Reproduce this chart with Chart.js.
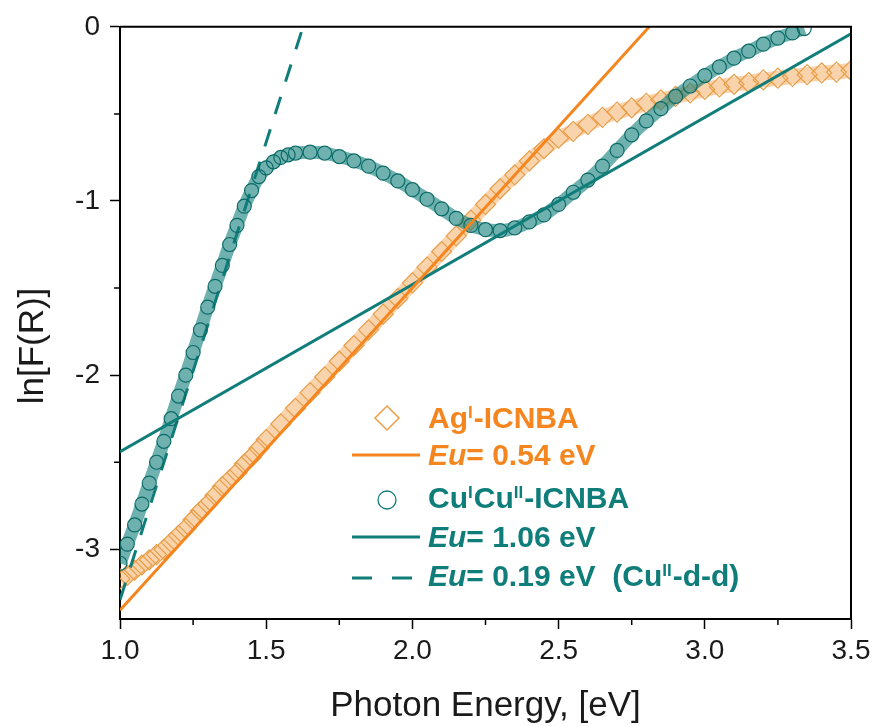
<!DOCTYPE html>
<html lang="en">
<head>
<meta charset="UTF-8">
<title>ln[F(R)] vs Photon Energy</title>
<script src="https://cdn.jsdelivr.net/npm/chart.js"></script>
<style>
    body { margin: 0; background: #fff; }
    #wrap { width: 877px; height: 727px; }
</style>
</head>
<body>
<div id="wrap"><canvas id="urbach" width="877" height="727"></canvas></div>
<script>
// Cu(I)Cu(II)-ICNBA
const cuX = [1.00, 1.025, 1.05, 1.075, 1.10, 1.125, 1.15, 1.175, 1.20, 1.225, 1.25, 1.275, 1.30, 1.325, 1.35, 1.375, 1.40, 1.425, 1.45, 1.475, 1.50, 1.525, 1.55, 1.575, 1.60,
             1.65, 1.70, 1.75, 1.80, 1.85, 1.90, 1.95, 2.00, 2.05, 2.10, 2.15, 2.20, 2.25, 2.30, 2.35, 2.40, 2.45, 2.50, 2.55, 2.60, 2.65, 2.70, 2.75, 2.80, 2.85, 2.90, 2.95, 3.00, 3.05, 3.10, 3.15, 3.20, 3.25, 3.30, 3.34];
const cuY = [-3.08, -2.97, -2.86, -2.74, -2.62, -2.50, -2.38, -2.25, -2.12, -2.00, -1.87, -1.74, -1.61, -1.49, -1.37, -1.25, -1.14, -1.03, -0.94, -0.86, -0.81, -0.775, -0.75, -0.735, -0.725,
             -0.72, -0.725, -0.745, -0.77, -0.80, -0.84, -0.885, -0.935, -0.99, -1.045, -1.10, -1.14, -1.165, -1.17, -1.155, -1.12, -1.08, -1.02, -0.95, -0.88, -0.80, -0.71, -0.62, -0.54, -0.47, -0.40, -0.34, -0.28, -0.23, -0.18, -0.14, -0.10, -0.065, -0.035, -0.01];

// Ag(I)-ICNBA
const agX = [1.00, 1.025, 1.05, 1.075, 1.10, 1.125, 1.15, 1.175, 1.20, 1.225, 1.25, 1.275, 1.30, 1.325, 1.35, 1.375, 1.40, 1.425, 1.45, 1.475, 1.50,
             1.55, 1.60, 1.65, 1.70, 1.75, 1.80, 1.85, 1.90, 1.95, 2.00, 2.05, 2.10, 2.15, 2.20, 2.25, 2.30, 2.35, 2.40, 2.45, 2.50, 2.55, 2.60, 2.65, 2.70, 2.75, 2.80, 2.85, 2.90, 2.95, 3.00, 3.05, 3.10, 3.15, 3.20, 3.25, 3.30, 3.35, 3.40, 3.45, 3.50];
const agY = [-3.17, -3.15, -3.12, -3.09, -3.06, -3.03, -3.00, -2.96, -2.92, -2.88, -2.83, -2.78, -2.74, -2.69, -2.64, -2.60, -2.56, -2.51, -2.47, -2.42, -2.37,
             -2.28, -2.19, -2.10, -2.01, -1.92, -1.83, -1.74, -1.65, -1.56, -1.47, -1.38, -1.29, -1.20, -1.11, -1.02, -0.93, -0.85, -0.77, -0.70, -0.64, -0.60, -0.56, -0.52, -0.49, -0.465, -0.44, -0.42, -0.40, -0.38, -0.36, -0.345, -0.33, -0.32, -0.305, -0.295, -0.285, -0.275, -0.265, -0.26, -0.25];

// Urbach fits (end points)
const fitAgX = [1.0, 2.81];
const fitAgY = [-3.35, 0];
const fitCuX = [1.0, 3.5];
const fitCuY = [-2.44, -0.04];
const fitDdX = [1.0, 1.626];
const fitDdY = [-3.29, 0];

const xTickValues = [1.0, 1.5, 2.0, 2.5, 3.0, 3.5];
const xMinorTicks = [1.25, 1.75, 2.25, 2.75, 3.25];
const yTickValues = [0, -1, -2, -3];
const yMinorTicks = [-0.5, -1.5, -2.5];

const ORANGE = '#F5861F';
const ORANGE_MARK = '#E99E48';
const TEAL = '#0F7D79';
const FONT = '"Liberation Sans", Arial, sans-serif';

function pts(xs, ys) {
    return xs.map((x, i) => ({ x: x, y: ys[i] }));
}

// frame on top/right + short minor ticks
const framePlugin = {
    id: 'framePlugin',
    afterDatasetsDraw(chart) {
        const { ctx, chartArea: a, scales } = chart;
        ctx.save();
        ctx.strokeStyle = '#000';
        ctx.lineWidth = 2;
        ctx.beginPath();
        ctx.moveTo(a.left, a.top);
        ctx.lineTo(a.right, a.top);
        ctx.lineTo(a.right, a.bottom);
        ctx.stroke();
        ctx.lineWidth = 1.5;
        ctx.beginPath();
        xMinorTicks.forEach(v => {
            const px = scales.x.getPixelForValue(v);
            ctx.moveTo(px, a.bottom);
            ctx.lineTo(px, a.bottom + 6);
        });
        yMinorTicks.forEach(v => {
            const py = scales.y.getPixelForValue(v);
            ctx.moveTo(a.left, py);
            ctx.lineTo(a.left - 6, py);
        });
        ctx.stroke();
        ctx.restore();
    }
};

function drawParts(ctx, parts, x, y, color) {
    ctx.fillStyle = color;
    ctx.textAlign = 'left';
    ctx.textBaseline = 'alphabetic';
    parts.forEach(p => {
        const size = p.sup ? 17 : 30;
        ctx.font = (p.it ? 'italic ' : '') + 'bold ' + size + 'px ' + FONT;
        ctx.fillText(p.t, x, p.sup ? y - 10 : y);
        x += ctx.measureText(p.t).width + (p.sup ? 1 : 0);
    });
}

const legendPlugin = {
    id: 'legendPlugin',
    afterDraw(chart) {
        const ctx = chart.ctx;
        ctx.save();
        // diamond
        ctx.strokeStyle = ORANGE_MARK;
        ctx.lineWidth = 1.5;
        ctx.beginPath();
        ctx.moveTo(387, 406); ctx.lineTo(399, 418); ctx.lineTo(387, 430); ctx.lineTo(375, 418);
        ctx.closePath();
        ctx.stroke();
        drawParts(ctx, [{ t: 'Ag' }, { t: 'I', sup: true }, { t: '-ICNBA' }], 428, 428, ORANGE);

        ctx.strokeStyle = ORANGE;
        ctx.lineWidth = 3;
        ctx.beginPath(); ctx.moveTo(352, 455); ctx.lineTo(420, 455); ctx.stroke();
        drawParts(ctx, [{ t: 'Eu', it: true }, { t: '= 0.54 eV' }], 428, 465, ORANGE);

        ctx.strokeStyle = TEAL;
        ctx.lineWidth = 1.3;
        ctx.beginPath(); ctx.arc(387, 500, 9, 0, Math.PI * 2); ctx.stroke();
        drawParts(ctx, [{ t: 'Cu' }, { t: 'I', sup: true }, { t: 'Cu' }, { t: 'II', sup: true }, { t: '-ICNBA' }], 428, 508, TEAL);

        ctx.lineWidth = 3;
        ctx.beginPath(); ctx.moveTo(352, 537); ctx.lineTo(420, 537); ctx.stroke();
        drawParts(ctx, [{ t: 'Eu', it: true }, { t: '= 1.06 eV' }], 428, 547, TEAL);

        ctx.setLineDash([20, 20]);
        ctx.beginPath(); ctx.moveTo(352, 578); ctx.lineTo(420, 578); ctx.stroke();
        ctx.setLineDash([]);
        drawParts(ctx, [{ t: 'Eu', it: true }, { t: '= 0.19 eV  (Cu' }, { t: 'II', sup: true }, { t: '-d-d)' }], 428, 586, TEAL);

        // y axis title
        ctx.translate(33, 346);
        ctx.rotate(-Math.PI / 2);
        ctx.font = '35px ' + FONT;
        ctx.fillStyle = '#1a1a1a';
        ctx.textAlign = 'center';
        ctx.textBaseline = 'middle';
        ctx.fillText('ln[F(R)]', 0, 0);
        ctx.restore();
    }
};

new Chart(document.getElementById('urbach'), {
    type: 'scatter',
    data: {
        datasets: [
            {
                label: 'CuICuII-ICNBA',
                data: pts(cuX, cuY),
                showLine: true,
                cubicInterpolationMode: 'monotone',
                borderColor: 'rgba(15,125,121,0.6)',
                borderWidth: 13,
                pointStyle: 'circle',
                pointRadius: 7,
                pointBorderColor: '#0B6B68',
                pointBackgroundColor: 'rgba(255,255,255,0)',
                pointBorderWidth: 1.2,
                clip: 0,
                order: 3
            },
            {
                label: 'AgI-ICNBA',
                data: pts(agX, agY),
                showLine: true,
                cubicInterpolationMode: 'monotone',
                borderColor: 'rgba(240,150,55,0.42)',
                borderWidth: 15,
                pointStyle: 'rectRot',
                pointRadius: 10,
                pointBorderColor: ORANGE_MARK,
                pointBackgroundColor: 'rgba(255,255,255,0)',
                pointBorderWidth: 1.2,
                clip: 0,
                order: 5
            },
            {
                label: 'Eu= 0.54 eV',
                data: pts(fitAgX, fitAgY),
                showLine: true,
                borderColor: ORANGE,
                borderWidth: 3,
                pointRadius: 0,
                clip: 0,
                order: 1
            },
            {
                label: 'Eu= 1.06 eV',
                data: pts(fitCuX, fitCuY),
                showLine: true,
                borderColor: TEAL,
                borderWidth: 3,
                pointRadius: 0,
                clip: 0,
                order: 1
            },
            {
                label: 'Eu= 0.19 eV (CuII-d-d)',
                data: pts(fitDdX, fitDdY),
                showLine: true,
                borderColor: TEAL,
                borderWidth: 3,
                borderDash: [18, 16],
                pointRadius: 0,
                clip: 0,
                order: 4
            }
        ]
    },
    options: {
        responsive: false,
        animation: false,
        layout: { padding: { top: 24, right: 26, left: 0, bottom: 0 } },
        plugins: {
            legend: { display: false },
            tooltip: { enabled: false }
        },
        scales: {
            x: {
                type: 'linear',
                min: 1.0,
                max: 3.5,
                afterBuildTicks: s => { s.ticks = xTickValues.map(v => ({ value: v })); },
                afterFit: s => { s.height = 108; },
                border: { display: true, color: '#000', width: 2 },
                grid: { drawOnChartArea: false, tickLength: 10, tickWidth: 1.5, tickColor: '#000' },
                ticks: {
                    padding: 5,
                    autoSkip: false,
                    maxRotation: 0,
                    color: '#1a1a1a',
                    font: { family: FONT, size: 28 },
                    callback: v => v.toFixed(1)
                },
                title: {
                    display: true,
                    text: 'Photon Energy, [eV]',
                    color: '#1a1a1a',
                    font: { family: FONT, size: 35 },
                    padding: { top: 0, bottom: 0 }
                }
            },
            y: {
                type: 'linear',
                min: -3.4,
                max: 0,
                afterBuildTicks: s => { s.ticks = yTickValues.map(v => ({ value: v })); },
                afterFit: s => { s.width = 120; },
                border: { display: true, color: '#000', width: 2 },
                grid: { drawOnChartArea: false, tickLength: 10, tickWidth: 1.5, tickColor: '#000' },
                ticks: {
                    padding: 10,
                    autoSkip: false,
                    color: '#1a1a1a',
                    font: { family: FONT, size: 28 },
                    callback: v => String(v)
                }
            }
        }
    },
    plugins: [framePlugin, legendPlugin]
});
</script>
</body>
</html>
